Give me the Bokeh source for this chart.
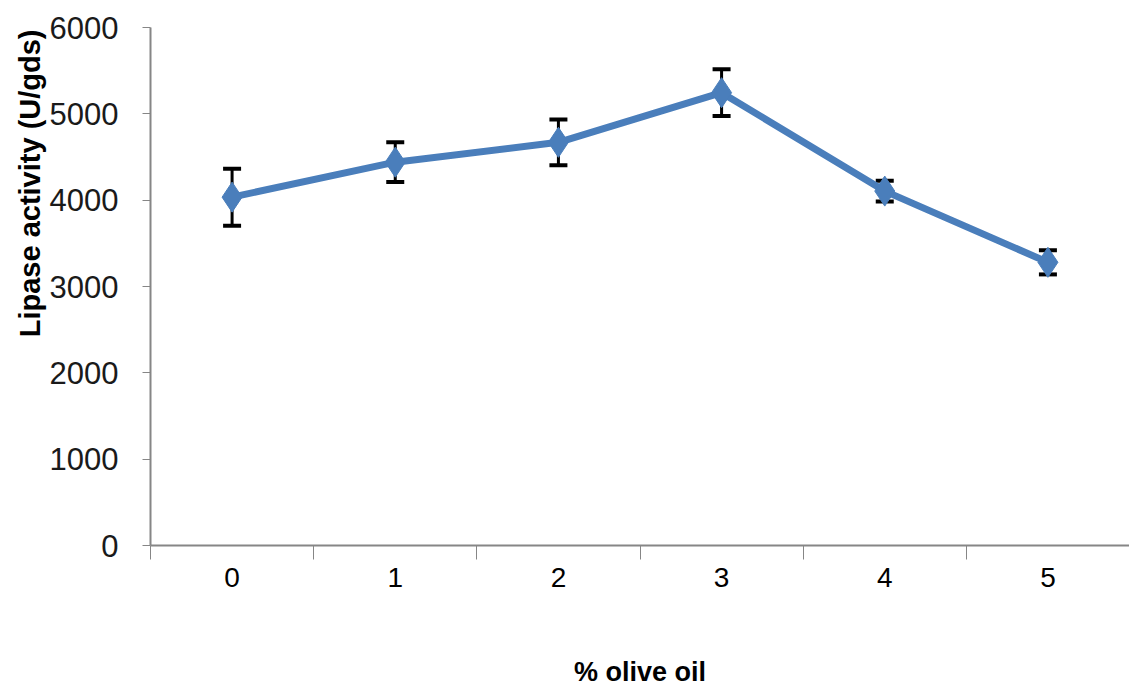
from bokeh.plotting import figure
from bokeh.models import Range1d, FixedTicker, Whisker, ColumnDataSource, Title
from bokeh.embed import file_html
from bokeh.resources import INLINE

olive_oil = [0, 1, 2, 3, 4, 5]
activity = [4035, 4440, 4670, 5245, 4105, 3280]
error = [330, 230, 265, 270, 120, 140]
y_ticks = [0, 1000, 2000, 3000, 4000, 5000, 6000]

src = ColumnDataSource(dict(
    x=olive_oil, y=activity,
    lo=[a - e for a, e in zip(activity, error)],
    hi=[a + e for a, e in zip(activity, error)],
))

p = figure(width=1129, height=692, output_backend="svg", toolbar_location=None,
           x_range=Range1d(-0.5, 5.5), y_range=Range1d(0, 6000),
           min_border_left=150, min_border_right=0, min_border_top=27, min_border_bottom=147)
p.outline_line_color = None
p.xgrid.grid_line_color = None
p.ygrid.grid_line_color = None
p.background_fill_color = "white"
p.border_fill_color = "white"

axis_color = "#868686"
# x axis
p.xaxis.ticker = FixedTicker(ticks=olive_oil, minor_ticks=[i - 0.5 for i in range(7)])
p.xaxis.major_tick_out = 0
p.xaxis.major_tick_in = 0
p.xaxis.minor_tick_out = 14
p.xaxis.minor_tick_in = 0
p.xaxis.minor_tick_line_color = axis_color
p.xaxis.axis_line_color = axis_color
p.xaxis.axis_line_width = 2
p.xaxis.major_label_standoff = 8
p.xaxis.major_label_text_font = "Liberation Sans"
p.xaxis.major_label_text_font_size = "28px"
p.xaxis.major_label_text_color = "#000000"
p.xaxis.axis_label = "% olive oil"
p.xaxis.axis_label_text_font = "Liberation Sans"
p.xaxis.axis_label_text_font_style = "bold"
p.xaxis.axis_label_text_font_size = "27px"
p.xaxis.axis_label_text_color = "#000000"
p.xaxis.axis_label_standoff = 67

# y axis
p.yaxis.ticker = FixedTicker(ticks=y_ticks)
p.yaxis.major_tick_out = 8
p.yaxis.major_tick_in = 0
p.yaxis.minor_tick_line_color = None
p.yaxis.major_tick_line_color = axis_color
p.yaxis.axis_line_color = axis_color
p.yaxis.axis_line_width = 2
p.yaxis.major_label_standoff = 24
p.yaxis.major_label_text_font = "Liberation Sans"
p.yaxis.major_label_text_font_size = "31px"
p.yaxis.major_label_text_color = "#1a1a1a"

ytitle = Title(text="Lipase activity (U/gds)", align="right", offset=2,
               text_font="Liberation Sans", text_font_style="bold",
               text_font_size="29px", text_color="#000000", standoff=2)
p.add_layout(ytitle, "left")

w = Whisker(source=src, base="x", lower="lo", upper="hi", dimension="height",
            line_color="black", line_width=3)
w.upper_head.size = 18
w.lower_head.size = 18
w.upper_head.line_width = 4
w.lower_head.line_width = 4
w.upper_head.line_color = "black"
w.lower_head.line_color = "black"
p.add_layout(w)

p.line("x", "y", source=src, line_color="#4A7EBB", line_width=7)
p.scatter("x", "y", source=src, marker="diamond", size=30,
          fill_color="#4A7EBB", line_color="#4A7EBB")

open("out.html", "w").write(file_html(p, INLINE))
